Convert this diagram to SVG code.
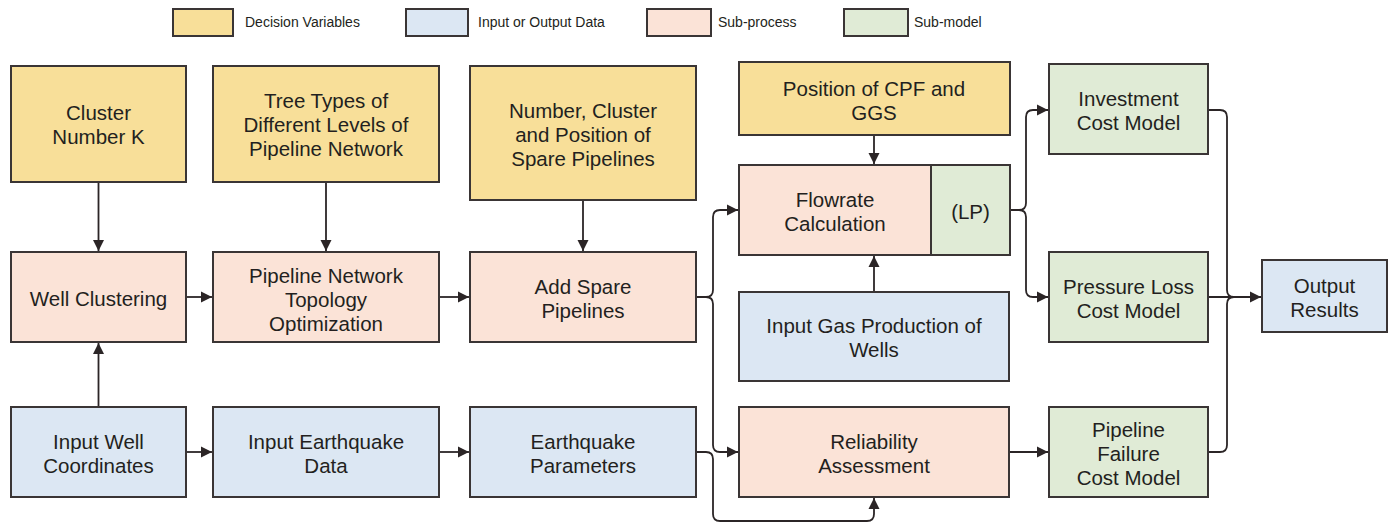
<svg xmlns="http://www.w3.org/2000/svg" width="1391" height="526" viewBox="0 0 1391 526">
<defs>
<style>
.box{stroke:#3a3535;stroke-width:2}
.dv{fill:#f8df99}
.io{fill:#dce7f3}
.sp{fill:#fbe3d7}
.sm{fill:#e0ebd6}
.t{font-family:"Liberation Sans",Arial,sans-serif;font-size:20.5px;fill:#231f20;text-anchor:middle}
.lg{font-family:"Liberation Sans",Arial,sans-serif;font-size:14px;fill:#231f20}
.c{fill:none;stroke:#2b2526;stroke-width:1.8}
.a{marker-end:url(#ah)}
</style>
<marker id="ah" markerUnits="userSpaceOnUse" markerWidth="12" markerHeight="12" refX="11" refY="6" orient="auto">
<path d="M0,0.5 L11,6 L0,11.5 z" fill="#2b2526"/>
</marker>
</defs>
<rect width="1391" height="526" fill="#ffffff"/>

<g id="legend">
<rect class="box dv" x="173" y="9" width="60" height="27"/>
<text class="lg" x="245" y="27">Decision Variables</text>
<rect class="box io" x="406" y="9" width="62" height="27"/>
<text class="lg" x="478" y="27">Input or Output Data</text>
<rect class="box sp" x="647" y="9" width="64" height="27"/>
<text class="lg" x="718" y="27">Sub-process</text>
<rect class="box sm" x="844" y="9" width="64" height="27"/>
<text class="lg" x="914" y="27">Sub-model</text>
</g>

<g id="connectors">
<path class="c a" d="M98.5,182 V251"/>
<path class="c a" d="M326,182 V251"/>
<path class="c a" d="M583,200 V251"/>
<path class="c a" d="M874,135 V164"/>
<path class="c a" d="M874,292 V256"/>
<path class="c a" d="M98.5,407 V343"/>
<path class="c a" d="M186,297 H212"/>
<path class="c a" d="M439,297 H469"/>
<path class="c a" d="M186,452 H212"/>
<path class="c a" d="M439,452 H469"/>
<path class="c a" d="M696,297 H706 Q713,297 713,290 V217 Q713,210 720,210 H738"/>
<path class="c a" d="M696,297 H706 Q713,297 713,304 V445 Q713,452 720,452 H738"/>
<path class="c a" d="M696,452 H706 Q713,452 713,459 V514 Q713,521 720,521 H867 Q874,521 874,514 V498"/>
<path class="c a" d="M1009,452 H1048"/>
<path class="c a" d="M1010,210 H1019 Q1026,210 1026,203 V117 Q1026,110 1033,110 H1048"/>
<path class="c a" d="M1010,210 H1019 Q1026,210 1026,217 V290 Q1026,297 1033,297 H1048"/>
<path class="c" d="M1208,110 H1220 Q1227,110 1227,117 V290 Q1227,297 1234,297"/>
<path class="c a" d="M1208,297 H1261"/>
<path class="c" d="M1208,452 H1220 Q1227,452 1227,445 V304 Q1227,297 1234,297"/>
</g>

<g id="n-cluster-number">
<rect class="box dv" x="11" y="66" width="175" height="116"/>
<text class="t" x="98.5" y="120">Cluster</text>
<text class="t" x="98.5" y="144">Number K</text>
</g>
<g id="n-tree-types">
<rect class="box dv" x="213" y="66" width="226" height="116"/>
<text class="t" x="326" y="108">Tree Types of</text>
<text class="t" x="326" y="132">Different Levels of</text>
<text class="t" x="326" y="156">Pipeline Network</text>
</g>
<g id="n-spare-vars">
<rect class="box dv" x="470" y="66" width="226" height="134"/>
<text class="t" x="583" y="118">Number, Cluster</text>
<text class="t" x="583" y="142">and Position of</text>
<text class="t" x="583" y="166">Spare Pipelines</text>
</g>
<g id="n-position-cpf">
<rect class="box dv" x="739" y="62" width="271" height="73"/>
<text class="t" x="874" y="96">Position of CPF and</text>
<text class="t" x="874" y="120">GGS</text>
</g>
<g id="n-flowrate">
<rect class="box sp" x="739" y="165" width="192" height="90"/>
<text class="t" x="835" y="207">Flowrate</text>
<text class="t" x="835" y="231">Calculation</text>
</g>
<g id="n-lp">
<rect class="box sm" x="931" y="165" width="79" height="90"/>
<text class="t" x="970.5" y="219">(LP)</text>
</g>
<g id="n-investment">
<rect class="box sm" x="1049" y="64" width="159" height="90"/>
<text class="t" x="1128.5" y="106">Investment</text>
<text class="t" x="1128.5" y="130">Cost Model</text>
</g>
<g id="n-pressure-loss">
<rect class="box sm" x="1049" y="252" width="159" height="90"/>
<text class="t" x="1128.5" y="294">Pressure Loss</text>
<text class="t" x="1128.5" y="318">Cost Model</text>
</g>
<g id="n-output">
<rect class="box io" x="1262" y="260" width="125" height="72"/>
<text class="t" x="1324.5" y="293">Output</text>
<text class="t" x="1324.5" y="317">Results</text>
</g>
<g id="n-well-clustering">
<rect class="box sp" x="11" y="252" width="175" height="90"/>
<text class="t" x="98.5" y="306">Well Clustering</text>
</g>
<g id="n-topology">
<rect class="box sp" x="213" y="252" width="226" height="90"/>
<text class="t" x="326" y="283">Pipeline Network</text>
<text class="t" x="326" y="307">Topology</text>
<text class="t" x="326" y="331">Optimization</text>
</g>
<g id="n-add-spare">
<rect class="box sp" x="470" y="252" width="226" height="90"/>
<text class="t" x="583" y="294">Add Spare</text>
<text class="t" x="583" y="318">Pipelines</text>
</g>
<g id="n-gas-production">
<rect class="box io" x="739" y="292" width="270" height="89"/>
<text class="t" x="874" y="333">Input Gas Production of</text>
<text class="t" x="874" y="357">Wells</text>
</g>
<g id="n-well-coords">
<rect class="box io" x="11" y="407" width="175" height="90"/>
<text class="t" x="98.5" y="449">Input Well</text>
<text class="t" x="98.5" y="473">Coordinates</text>
</g>
<g id="n-eq-data">
<rect class="box io" x="213" y="407" width="226" height="90"/>
<text class="t" x="326" y="449">Input Earthquake</text>
<text class="t" x="326" y="473">Data</text>
</g>
<g id="n-eq-params">
<rect class="box io" x="470" y="407" width="226" height="90"/>
<text class="t" x="583" y="449">Earthquake</text>
<text class="t" x="583" y="473">Parameters</text>
</g>
<g id="n-reliability">
<rect class="box sp" x="739" y="407" width="270" height="90"/>
<text class="t" x="874" y="449">Reliability</text>
<text class="t" x="874" y="473">Assessment</text>
</g>
<g id="n-failure-cost">
<rect class="box sm" x="1049" y="407" width="159" height="90"/>
<text class="t" x="1128.5" y="437">Pipeline</text>
<text class="t" x="1128.5" y="461">Failure</text>
<text class="t" x="1128.5" y="485">Cost Model</text>
</g>
</svg>
